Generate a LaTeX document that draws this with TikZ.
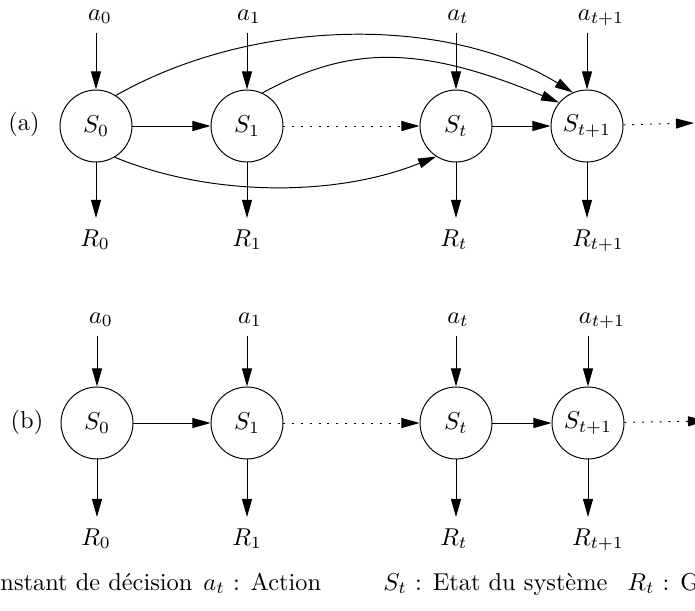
\documentclass[tikz,border=0pt]{standalone}
\usetikzlibrary{arrows.meta}
\begin{document}
\begin{tikzpicture}[x=0.41pt, y=-0.41pt,
  etat/.style={draw, circle, minimum size=29.5pt, inner sep=0pt},
  lbl/.style={inner sep=3pt, text height=8.3pt, text depth=2pt, anchor=base},
  lgd/.style={inner sep=0pt, anchor=base west},
  arr/.style={-{Triangle[length=7.4pt,width=4.1pt]}},
  darr/.style={arr, dash pattern=on 0.8pt off 2.8pt}
]
\useasboundingbox (0,0) rectangle (695,610);
\clip (0,0) rectangle (695,610);
% (a)
\node (la) at (24,124) {(a)};
\node[etat] (Sa0) at (96,126) {$S_0$};
\node[etat] (Sa1) at (247,126) {$S_1$};
\node[etat] (Sat) at (456,126) {$S_t$};
\node[etat] (SaT) at (587,126) {$S_{t+1}$};
\node[lbl] (aa0) at (100,20) {$a_0$};
\node[lbl] (aa1) at (249,20) {$a_1$};
\node[lbl] (aat) at (458,20) {$a_t$};
\node[lbl] (aaT) at (601,20) {$a_{t+1}$};
\node[lbl] (Ra0) at (95,246) {$R_0$};
\node[lbl] (Ra1) at (247,246) {$R_1$};
\node[lbl] (Rat) at (454,246) {$R_t$};
\node[lbl] (RaT) at (598,246) {$R_{t+1}$};
\coordinate (ea) at (694,123);
\draw[arr] (Sa0 |- aa0.south) -- (Sa0);
\draw[arr] (Sa1 |- aa1.south) -- (Sa1);
\draw[arr] (Sat |- aat.south) -- (Sat);
\draw[arr] (SaT |- aaT.south) -- (SaT);
\draw[arr] (Sa0) -- (Sa0 |- Ra0.north);
\draw[arr] (Sa1) -- (Sa1 |- Ra1.north);
\draw[arr] (Sat) -- (Sat |- Rat.north);
\draw[arr] (SaT) -- (SaT |- RaT.north);
\draw[arr] (Sa0) -- (Sa1);
\draw[darr] (Sa1) -- (Sat);
\draw[arr] (Sat) -- (SaT);
\draw[darr] (SaT) -- (ea);
\draw[arr] (Sa0.57) .. controls (256,16) and (449,16) .. (SaT.113);
\draw[arr] (Sa1.65) .. controls (350,45) and (420,45) .. (SaT.140);
\draw[arr] (Sa0.-59) .. controls (211,197) and (336,197) .. (Sat.-123);
% (b)
\node (lb) at (27,422) {(b)};
\node[etat] (Sb0) at (97,423) {$S_0$};
\node[etat] (Sb1) at (247,423) {$S_1$};
\node[etat] (Sbt) at (456,423) {$S_t$};
\node[etat] (SbT) at (588,423) {$S_{t+1}$};
\node[lbl] (ab0) at (101,323) {$a_0$};
\node[lbl] (ab1) at (250,323) {$a_1$};
\node[lbl] (abt) at (458,323) {$a_t$};
\node[lbl] (abT) at (602,323) {$a_{t+1}$};
\node[lbl] (Rb0) at (96,545) {$R_0$};
\node[lbl] (Rb1) at (247,545) {$R_1$};
\node[lbl] (Rbt) at (454,545) {$R_t$};
\node[lbl] (RbT) at (598,545) {$R_{t+1}$};
\coordinate (eb) at (706,421);
\draw[arr] (Sb0 |- ab0.south) -- (Sb0);
\draw[arr] (Sb1 |- ab1.south) -- (Sb1);
\draw[arr] (Sbt |- abt.south) -- (Sbt);
\draw[arr] (SbT |- abT.south) -- (SbT);
\draw[arr] (Sb0) -- (Sb0 |- Rb0.north);
\draw[arr] (Sb1) -- (Sb1 |- Rb1.north);
\draw[arr] (Sbt) -- (Sbt |- Rbt.north);
\draw[arr] (SbT) -- (SbT |- RbT.north);
\draw[arr] (Sb0) -- (Sb1);
\draw[darr] (Sb1) -- (Sbt);
\draw[arr] (Sbt) -- (SbT);
\draw[darr] (SbT) -- (eb);
% legende
\node[lgd] (lgt) at (0,590) {nstant de décision};
\node[lgd] (lga) at (203,590) {$a_t$ : Action};
\node[lgd] (lgs) at (383,590) {$S_t$ : Etat du système};
\node[lgd] (lgr) at (627,590) {$R_t$ : G};
\end{tikzpicture}
\end{document}
